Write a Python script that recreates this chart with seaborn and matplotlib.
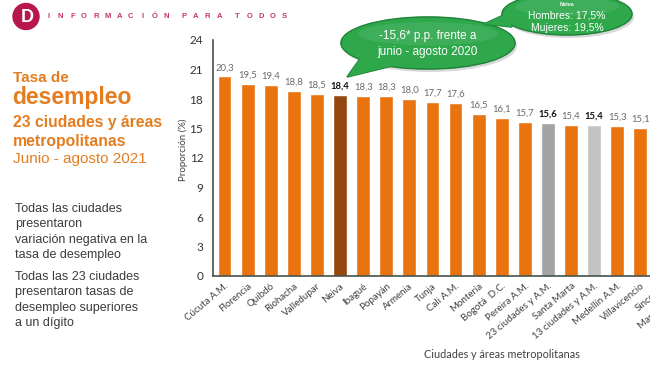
import numpy as np
import pandas as pd
import matplotlib
matplotlib.use("Agg")
import matplotlib.pyplot as plt
import seaborn as sns
from matplotlib.patches import Ellipse, Polygon, Circle

# Datos: tasa de desempleo junio - agosto 2021 (%)
ciudades = ["Cúcuta A.M.", "Florencia", "Quibdó", "Riohacha", "Valledupar", "Neiva",
            "Ibagué", "Popayán", "Armenia", "Tunja", "Cali A.M.", "Montería",
            "Bogotá  D.C.", "Pereira A.M.", "23 ciudades y A.M.", "Santa Marta",
            "13 ciudades y A.M.", "Medellín A.M.", "Villavicencio", "Sincelejo",
            "Manizales A.M."]
tasa = [20.3, 19.5, 19.4, 18.8, 18.5, 18.4, 18.3, 18.3, 18.0, 17.7, 17.6, 16.5,
        16.1, 15.7, 15.6, 15.4, 15.4, 15.3, 15.1, 15.0, 14.8]
destacadas = ["Neiva", "23 ciudades y A.M.", "13 ciudades y A.M."]

naranja = "#E8730F"
colores = {c: naranja for c in ciudades}
colores["Neiva"] = "#93470C"
colores["23 ciudades y A.M."] = "#A3A3A3"
colores["13 ciudades y A.M."] = "#C3C3C3"

df = pd.DataFrame({"ciudad": ciudades, "tasa": tasa})

sns.set_theme(style="white")
plt.rcParams["font.family"] = ["Lato", "DejaVu Sans"]

W, H = 650, 365
fig = plt.figure(figsize=(W / 100, H / 100), dpi=100)
fig.patch.set_facecolor("white")

# main axes in pixel terms (extends past the right edge, like the cropped slide)
ax_left, ax_bottom, ax_top, paso = 213, 276, 40, 23.1
n = len(ciudades)
ax = fig.add_axes([ax_left / W, 1 - ax_bottom / H, paso * n / W, (ax_bottom - ax_top) / H])

sns.barplot(data=df, x="ciudad", y="tasa", hue="ciudad", palette=colores,
            legend=False, width=0.6, saturation=1, ax=ax)

for i, (c, v) in enumerate(zip(ciudades, tasa)):
    txt = f"{v:.1f}".replace(".", ",")
    if c in destacadas:
        ax.annotate(txt, (i, v), xytext=(0, 3), textcoords="offset points",
                    ha="center", va="bottom", fontsize=6.8, fontweight="bold", color="#111111")
    else:
        ax.annotate(txt, (i, v), xytext=(0, 3), textcoords="offset points",
                    ha="center", va="bottom", fontsize=6.8, color="#6a6a6a")

eje = "#44524a"
ax.set_xlim(-0.5, n - 0.5)
ax.set_ylim(0, 24)
ax.set_yticks(range(0, 25, 3))
ax.set_xticks(range(n))
ax.set_xticklabels(ciudades, rotation=40, ha="right", rotation_mode="anchor",
                   fontsize=7, color="#404040")
ax.set_xticks(np.arange(-0.5, n, 1), minor=True)
ax.tick_params(axis="x", which="major", length=0, pad=4)
ax.tick_params(axis="x", which="minor", length=6, direction="inout", color=eje, width=1)
ax.tick_params(axis="y", length=5, color=eje, width=1, labelsize=8.5, labelcolor="#333333", pad=2)
ax.set_xlabel("")
ax.set_ylabel("")
for s in ["top", "right"]:
    ax.spines[s].set_visible(False)
for s in ["left", "bottom"]:
    ax.spines[s].set_color(eje)
    ax.spines[s].set_linewidth(1.2)

# overlay in pixel coordinates for the slide decoration
ov = fig.add_axes([0, 0, 1, 1], zorder=10)
ov.set_xlim(0, W)
ov.set_ylim(H, 0)
ov.axis("off")
ov.patch.set_alpha(0)

ov.text(183, 150, "Proporción (%)", rotation=90, ha="center", va="center",
        fontsize=7, color="#404040")
ov.text(502, 355, "Ciudades y áreas metropolitanas", ha="center", va="center",
        fontsize=7.8, color="#404040")

# header
ov.add_patch(Circle((26, 16.5), 13, color="#B8174B"))
ov.text(27, 17.5, "D", ha="center", va="center", color="white", fontsize=13,
        fontweight="bold", family="Liberation Sans")
x = 49
for ch in "INFORMACIÓN PARA TODOS":
    if ch == " ":
        x += 6.5
        continue
    ov.text(x, 17, ch, ha="center", va="center", fontsize=5.5, fontweight="bold",
            color="#C23B60", family="Liberation Sans")
    x += 11.7

# left titles
naranja_txt = "#E47D20"
ov.text(13, 82, "Tasa de", fontsize=11, fontweight="bold", color=naranja_txt,
        family="Liberation Sans", va="baseline")
ov.text(12, 104, "desempleo", fontsize=16.5, fontweight="bold", color=naranja_txt,
        family="Liberation Sans", va="baseline")
ov.text(13, 127, "23 ciudades y áreas", fontsize=11.3, fontweight="bold", color=naranja_txt,
        family="Liberation Sans", va="baseline")
ov.text(13, 146, "metropolitanas", fontsize=11.3, fontweight="bold", color=naranja_txt,
        family="Liberation Sans", va="baseline")
ov.text(13, 163, "Junio - agosto 2021", fontsize=11, color=naranja_txt,
        family="Liberation Sans", va="baseline")

notas = ["Todas las ciudades", "presentaron", "variación negativa en la", "tasa de desempleo",
         None, "Todas las 23 ciudades", "presentaron tasas de", "desempleo superiores",
         "a un dígito"]
y = 212
for linea in notas:
    if linea is None:
        y += 6.5
        continue
    ov.text(15, y, linea, fontsize=9, color="#3c3c3c", family="Liberation Sans", va="baseline")
    y += 15.4

# callouts
verde, borde = "#2FA84C", "#1F8438"
def burbuja(cx, cy, w, h, cola):
    ov.add_patch(Ellipse((cx + 2, cy + 3), w, h, color="black", alpha=0.15, lw=0))
    ov.add_patch(Polygon(cola, closed=True, fc=verde, ec=borde, lw=1.2))
    ov.add_patch(Ellipse((cx, cy), w, h, fc=verde, ec=borde, lw=1.2))
    ov.add_patch(Polygon(cola, closed=True, fc=verde, ec="none"))
    ov.add_patch(Ellipse((cx, cy), w - 1.5, h - 1.5, fc=verde, ec="none"))
    ov.add_patch(Ellipse((cx, cy - h * 0.18), w * 0.8, h * 0.45, fc="white", alpha=0.08, ec="none"))

burbuja(428, 43, 174, 52, [(362, 56), (347, 77), (392, 66)])
ov.text(428, 36, "-15,6* p.p. frente a", ha="center", va="center", color="white",
        fontsize=8.5, family="Liberation Sans")
ov.text(428, 52, "junio - agosto 2020", ha="center", va="center", color="white",
        fontsize=8.5, family="Liberation Sans")

burbuja(567, 14, 130, 42, [(508, 13), (484, 24), (512, 27)])
ov.text(567, 5, "Neiva", ha="center", va="center", color="white", fontsize=4,
        fontweight="bold", family="Liberation Sans")
ov.text(567, 16, "Hombres: 17,5%", ha="center", va="center", color="white",
        fontsize=7.5, family="Liberation Sans")
ov.text(567, 28, "Mujeres: 19,5%", ha="center", va="center", color="white",
        fontsize=7.5, family="Liberation Sans")

fig.savefig("out.png", dpi=100)
